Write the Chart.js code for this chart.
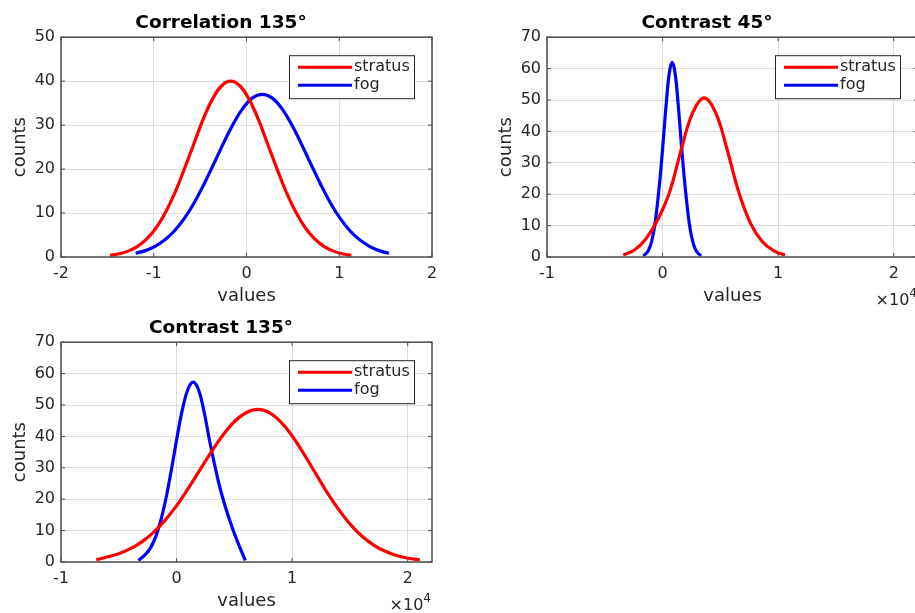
<!DOCTYPE html>
<html>
<head>
<meta charset="utf-8">
<script src="https://cdn.jsdelivr.net/npm/chart.js@4.4.0/dist/chart.umd.min.js"></script>
<style>
  html, body { margin: 0; padding: 0; background: #fff; overflow: hidden; }
  body { width: 915px; height: 613px; position: relative; }
  canvas { position: absolute; }
</style>
</head>
<body>
<canvas id="corr135" width="450" height="310" style="left:0;top:0"></canvas>
<canvas id="con45" width="450" height="310" style="left:486px;top:0"></canvas>
<canvas id="con135" width="450" height="310" style="left:0;top:305px"></canvas>
<script>
// Correlation 135°
const corrStratusX = [-1.47, -1.37, -1.27, -1.17, -1.07, -0.97, -0.87, -0.77, -0.67, -0.57, -0.47, -0.37, -0.27, -0.17, -0.07, 0.03, 0.13, 0.23, 0.33, 0.43, 0.53, 0.63, 0.73, 0.83, 0.93, 1.03, 1.13];
const corrStratusY = [0.37, 0.73, 1.39, 2.49, 4.22, 6.76, 10.3, 14.7, 20.0, 25.6, 31.2, 35.8, 38.9, 40.0, 38.9, 35.8, 31.2, 25.6, 20.0, 14.7, 10.3, 6.76, 4.22, 2.49, 1.39, 0.73, 0.37];
const corrFogX = [-1.195, -1.09, -0.985, -0.88, -0.775, -0.67, -0.565, -0.46, -0.355, -0.25, -0.145, -0.04, 0.065, 0.17, 0.275, 0.38, 0.485, 0.59, 0.695, 0.8, 0.905, 1.01, 1.115, 1.22, 1.325, 1.43, 1.535];
const corrFogY = [0.83, 1.45, 2.43, 3.90, 5.98, 8.77, 12.3, 16.5, 21.1, 25.8, 30.2, 33.8, 36.2, 37.0, 36.2, 33.8, 30.2, 25.8, 21.1, 16.5, 12.3, 8.77, 5.98, 3.90, 2.43, 1.45, 0.83];

// Contrast 45° (values x 10^4)
const con45StratusX = [-0.34, -0.24, -0.14, -0.04, 0.06, 0.16, 0.26, 0.36, 0.46, 0.56, 0.66, 0.76, 0.86, 0.96, 1.06];
const con45StratusY = [0.6, 2.3, 6.0, 12.0, 20.6, 34.0, 45.9, 50.7, 45.9, 34.0, 20.6, 10.8, 5.0, 2.0, 0.6];
const con45FogX = [-0.167, -0.142, -0.117, -0.092, -0.067, -0.042, -0.017, 0.008, 0.033, 0.058, 0.083, 0.108, 0.133, 0.158, 0.183, 0.208, 0.233, 0.258, 0.283, 0.308, 0.333];
const con45FogY = [0.4, 1.1, 2.5, 5.4, 10.2, 17.8, 27.0, 38.0, 49.4, 58.6, 62.0, 58.6, 49.4, 38.0, 27.0, 17.8, 10.2, 5.4, 2.5, 1.1, 0.4];

// Contrast 135° (values x 10^4)
const con135StratusX = [-0.695, -0.595, -0.495, -0.395, -0.295, -0.195, -0.095, 0.005, 0.105, 0.205, 0.305, 0.405, 0.505, 0.605, 0.705, 0.805, 0.905, 1.005, 1.105, 1.205, 1.305, 1.405, 1.505, 1.605, 1.705, 1.805, 1.905, 2.005, 2.105];
const con135StratusY = [0.7, 1.65, 2.73, 4.32, 6.58, 9.62, 13.5, 18.2, 23.7, 29.5, 35.3, 40.6, 44.9, 47.6, 48.6, 47.5, 44.5, 39.9, 34.2, 28.1, 22.0, 16.6, 11.9, 8.19, 5.40, 3.40, 2.05, 1.18, 0.65];
const con135FogX = [-0.33, -0.269, -0.223, -0.177, -0.131, -0.085, -0.039, 0.007, 0.053, 0.099, 0.145, 0.191, 0.237, 0.283, 0.329, 0.375, 0.421, 0.467, 0.513, 0.559, 0.595];
const con135FogY = [0.5, 2.4, 4.66, 8.4, 14.0, 21.5, 30.6, 40.3, 49.0, 55.1, 57.3, 54.8, 48.0, 39.1, 31.0, 23.7, 17.7, 12.5, 7.8, 3.6, 0.5];

const FONT = '"DejaVu Sans", sans-serif';
const INK = '#262626';
const GRID = 'rgba(38,38,38,0.15)';

function pts(xs, ys) {
    return xs.map((x, i) => ({ x: x, y: ys[i] }));
}

// box with inner ticks, legend in the corner, and the x10^4 note
const matlabFrame = {
    id: 'matlabFrame',
    afterDatasetsDraw(chart, args, opts) {
        const ctx = chart.ctx;
        const a = chart.chartArea;
        const xs = chart.scales.x;
        const ys = chart.scales.y;
        ctx.save();

        ctx.strokeStyle = '#4d4d4d';
        ctx.lineWidth = 1.5;
        ctx.strokeRect(a.left, a.top, a.right - a.left, a.bottom - a.top);

        ctx.lineWidth = 1;
        ctx.beginPath();
        xs.ticks.forEach(t => {
            const p = xs.getPixelForValue(t.value);
            ctx.moveTo(p, a.bottom); ctx.lineTo(p, a.bottom - 4);
            ctx.moveTo(p, a.top); ctx.lineTo(p, a.top + 4);
        });
        ys.ticks.forEach(t => {
            const p = ys.getPixelForValue(t.value);
            ctx.moveTo(a.left, p); ctx.lineTo(a.left + 4, p);
            ctx.moveTo(a.right, p); ctx.lineTo(a.right - 4, p);
        });
        ctx.stroke();

        // legend
        const w = 125, h = 43;
        const bx = a.right - 18 - w, by = a.top + 18;
        ctx.fillStyle = '#fff';
        ctx.fillRect(bx, by, w, h);
        ctx.strokeStyle = '#262626';
        ctx.lineWidth = 1;
        ctx.strokeRect(bx + 0.5, by + 0.5, w, h);
        ctx.font = '16px ' + FONT;
        ctx.textBaseline = 'middle';
        ctx.textAlign = 'left';
        chart.data.datasets.forEach((ds, i) => {
            const ly = by + 12 + i * 18;
            ctx.strokeStyle = ds.borderColor;
            ctx.lineWidth = 3;
            ctx.beginPath();
            ctx.moveTo(bx + 9, ly);
            ctx.lineTo(bx + 63, ly);
            ctx.stroke();
            ctx.fillStyle = INK;
            ctx.fillText(ds.label, bx + 65, ly);
        });

        if (opts.exponent) {
            ctx.fillStyle = INK;
            ctx.textAlign = 'right';
            ctx.font = '12px ' + FONT;
            ctx.fillText('4', a.right - 1, a.bottom + 37);
            const sw = ctx.measureText('4').width;
            ctx.font = '16px ' + FONT;
            ctx.fillText('\u00d710', a.right - 1 - sw, a.bottom + 44);
        }
        ctx.restore();
    }
};

function makeChart(id, title, xMin, xMax, yMax, stratus, fog, exponent) {
    const context = document.getElementById(id).getContext('2d');
    const tickFont = { family: FONT, size: 16 };
    const labelFont = { family: FONT, size: 18 };
    return new Chart(context, {
        type: 'line',
        data: {
            datasets: [
                { label: 'stratus', data: stratus, borderColor: '#ff0000', borderWidth: 3.2, pointRadius: 0, tension: 0.4, fill: false },
                { label: 'fog', data: fog, borderColor: '#0000ff', borderWidth: 3.2, pointRadius: 0, tension: 0.4, fill: false }
            ]
        },
        options: {
            responsive: false,
            animation: false,
            layout: { padding: { left: 10, right: 18, top: 0, bottom: 3 } },
            plugins: {
                legend: { display: false },
                tooltip: { enabled: false },
                title: {
                    display: true,
                    text: title,
                    color: '#000',
                    font: { family: FONT, size: 18.5, weight: 'bold' },
                    padding: { top: 12, bottom: 3 }
                },
                matlabFrame: { exponent: exponent }
            },
            scales: {
                x: {
                    type: 'linear',
                    min: xMin,
                    max: xMax,
                    afterFit: s => { s.height = 50; },
                    ticks: { stepSize: 1, includeBounds: false, padding: 7, color: INK, font: tickFont, maxRotation: 0, autoSkip: false },
                    grid: { color: GRID, drawTicks: false },
                    border: { display: false },
                    title: { display: true, text: 'values', color: INK, font: labelFont, padding: 0 }
                },
                y: {
                    min: 0,
                    max: yMax,
                    afterFit: s => { s.width = 51; },
                    ticks: { stepSize: 10, padding: 6, color: INK, font: tickFont },
                    grid: { color: GRID, drawTicks: false },
                    border: { display: false },
                    title: { display: true, text: 'counts', color: INK, font: labelFont, padding: 0 }
                }
            }
        },
        plugins: [matlabFrame]
    });
}

makeChart('corr135', 'Correlation 135°', -2, 2, 50,
    pts(corrStratusX, corrStratusY), pts(corrFogX, corrFogY), false);
makeChart('con45', 'Contrast 45°', -1, 2.21, 70,
    pts(con45StratusX, con45StratusY), pts(con45FogX, con45FogY), true);
makeChart('con135', 'Contrast 135°', -1, 2.21, 70,
    pts(con135StratusX, con135StratusY), pts(con135FogX, con135FogY), true);
</script>
</body>
</html>
